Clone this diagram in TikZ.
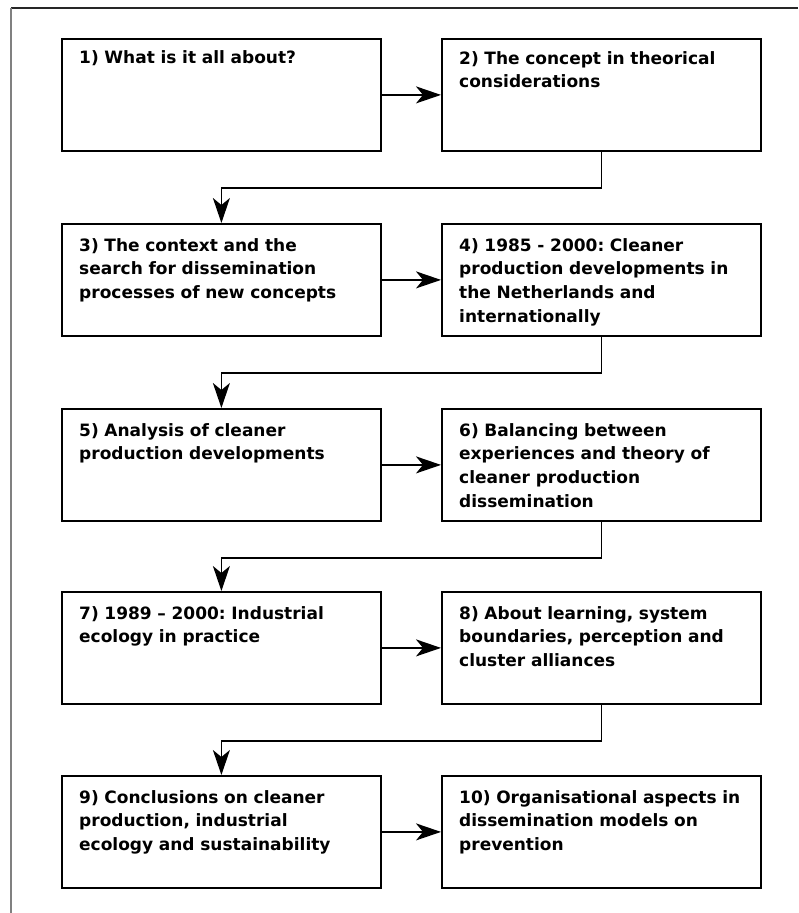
\documentclass[tikz,border=0pt]{standalone}
\usepackage{fontspec}
\setmainfont{DejaVu Sans}
\usetikzlibrary{arrows.meta}
\begin{document}
\frenchspacing
\begin{tikzpicture}[x=1pt,y=-1pt,
  stage/.style={draw, line width=1.8pt, minimum width=319pt, minimum height=112pt,
    anchor=north west, inner sep=0pt},
  caption/.style={anchor=base west, text width=305pt, align=left, inner sep=0pt,
    font=\bfseries\fontsize{17}{23.7}\selectfont},
  flow/.style={line width=1.4pt, -{Stealth[length=25pt,width=17pt,inset=7pt]}}]
\useasboundingbox (0,0) rectangle (798,913);
% page frame: rule along the top and the left edge
\draw[line width=1.5pt, black!85] (11,8) -- (798,8);
\draw[line width=2pt, gray] (11,8) -- (11,913);

% stage boxes, two per row
\node[stage] (b1)  at (61,38)  {};
\node[stage] (b2)  at (441,38) {};
\node[stage] (b3)  at (61,223) {};
\node[stage] (b4)  at (441,223) {};
\node[stage] (b5)  at (61,408) {};
\node[stage] (b6)  at (441,408) {};
\node[stage] (b7)  at (61,591) {};
\node[stage] (b8)  at (441,591) {};
\node[stage] (b9)  at (61,775) {};
\node[stage] (b10) at (441,775) {};

% captions, set from the top left of each box
\node[caption] (t1)  at (79,63)  {1) What is it all about?};
\node[caption] (t2)  at (459,64) {2) The concept in theorical\\considerations};
\node[caption] (t3)  at (79,251) {3) The context and the\\search for dissemination\\processes of new concepts};
\node[caption] (t4)  at (459,251) {4) 1985 - 2000: Cleaner\\production developments in\\the Netherlands and\\internationally};
\node[caption] (t5)  at (79,436) {5) Analysis of cleaner\\production developments};
\node[caption] (t6)  at (459,436) {6) Balancing between\\experiences and theory of\\cleaner production\\dissemination};
\node[caption] (t7)  at (79,619) {7) 1989 – 2000: Industrial\\ecology in practice};
\node[caption] (t8)  at (459,619) {8) About learning, system\\boundaries, perception and\\cluster alliances};
\node[caption] (t9)  at (79,803) {9) Conclusions on cleaner\\production, industrial\\ecology and sustainability};
\node[caption] (t10) at (459,803) {10) Organisational aspects in\\dissemination models on\\prevention};

% left-to-right arrows within a row
\draw[flow] (b1.east) -- (b2.west);
\draw[flow] (b3.east) -- (b4.west);
\draw[flow] (b5.east) -- (b6.west);
\draw[flow] (b7.east) -- (b8.west);
\draw[flow] (b9.east) -- (b10.west);

% return arrows from the right box down to the next row
\draw[flow] (b2.south) -- ++(0,36) -| (b3.north);
\draw[flow] (b4.south) -- ++(0,36) -| (b5.north);
\draw[flow] (b6.south) -- ++(0,36) -| (b7.north);
\draw[flow] (b8.south) -- ++(0,36) -| (b9.north);
\end{tikzpicture}
\end{document}
